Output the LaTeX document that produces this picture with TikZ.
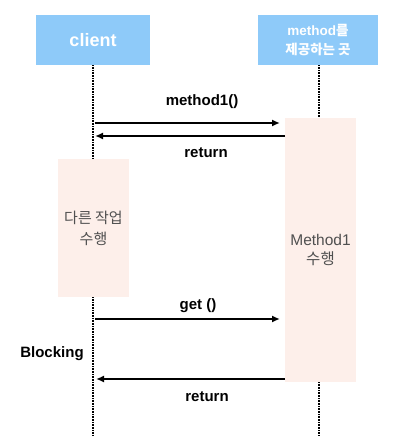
\documentclass[tikz,border=0pt]{standalone}
\usepackage{fontspec}
\setmainfont{Liberation Sans}
\newfontfamily\kr{Noto Sans CJK KR}
\usetikzlibrary{arrows.meta}
\definecolor{hdr}{RGB}{142,202,249}
\definecolor{act}{RGB}{253,239,234}
\definecolor{acttext}{RGB}{80,80,80}
\begin{document}
\begin{tikzpicture}[x=1pt,y=-1pt,
  header/.style={fill=hdr,draw=none,text=white,align=center,inner sep=0pt},
  actbox/.style={fill=act,draw=none,text=acttext,align=center,inner sep=0pt,minimum width=71pt},
  lifeline/.style={draw=black,line width=1.3pt,dash pattern=on 0.8pt off 0.8pt},
  msg/.style={draw=black,line width=1.8pt,-{Latex[length=8pt,width=7pt]}},
  msglabel/.style={font=\fontsize{15}{17}\selectfont\bfseries,inner sep=0pt}]
\useasboundingbox (0,0) rectangle (407,438);
% headers
\node[header,minimum width=114pt,minimum height=50pt,font=\fontsize{18}{20}\selectfont\bfseries] (client) at (93,40) {client};
\node[header,minimum width=120pt,minimum height=50pt,font=\fontsize{13.5}{19.5}\selectfont\bfseries] (server) at (318,40) {method{\kr 를}\\{\kr 제공하는 곳}};
% lifelines
\coordinate (clientEnd) at (93,436);
\coordinate (serverEnd) at (319,436);
\draw[lifeline] (client.south) -- (clientEnd);
\draw[lifeline] (server.south -| serverEnd) -- (serverEnd);
% activation boxes
\node[actbox,minimum height=138pt,font=\fontsize{15}{21}\selectfont] (other) at (93.5,228) {{\kr 다른 작업}\\{\kr 수행}};
\node[actbox,minimum height=264pt,font=\fontsize{15.5}{19}\selectfont] (work) at (320.5,250) {Method1\\{\kr 수행}};
% messages
\coordinate (m1s) at (95,123);
\coordinate (m1e) at (280,123);
\coordinate (r1s) at (285,136);
\coordinate (r1e) at (95,136);
\coordinate (gs) at (95,319);
\coordinate (ge) at (280,319);
\coordinate (r2s) at (285,379);
\coordinate (r2e) at (96,379);
\draw[msg] (m1s) -- (m1e);
\draw[msg] (r1s) -- (r1e);
\draw[msg] (gs) -- (ge);
\draw[msg] (r2s) -- (r2e);
% labels
\node[msglabel] (l1) at (202,102) {method1()};
\node[msglabel] (l2) at (206,153) {return};
\node[msglabel] (l3) at (198,306) {get ()};
\node[msglabel] (l4) at (207,397) {return};
\node[msglabel] (block) at (52,354) {Blocking};
\end{tikzpicture}
\end{document}
